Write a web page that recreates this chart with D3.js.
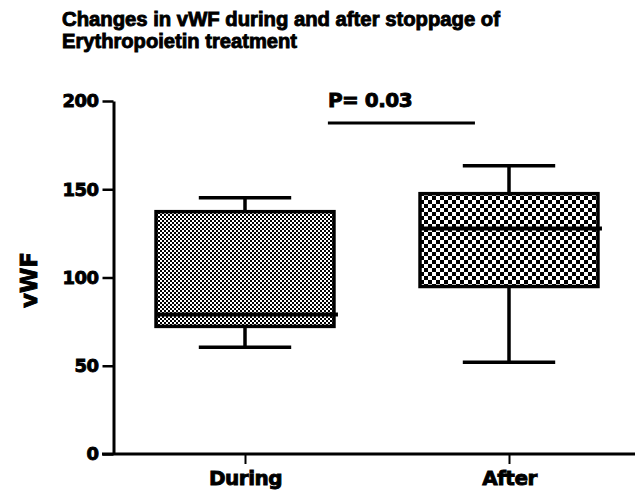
<!DOCTYPE html>
<html>
<head>
<meta charset="utf-8">
<script src="https://cdn.jsdelivr.net/npm/d3@7"></script>
<style>
  body { margin: 0; background: #fff; }
  svg { display: block; }
  .heavy { stroke: #000; stroke-width: 0.9px; paint-order: stroke; }
</style>
</head>
<body>
<div id="chart"></div>
<script>
// Box plot data
const categories = ["During", "After"];
const whiskerLow = [60.5, 52];
const q1 = [72.3, 94.9];
const median = [79.1, 127.7];
const q3 = [137.3, 147.5];
const whiskerHigh = [145.2, 163.3];
const yTicks = [0, 50, 100, 150, 200];
const titleLines = ["Changes in vWF during and after stoppage of", "Erythropoietin treatment"];
const pLabel = "P= 0.03";
const pBarValue = 187.6;

function createBoxPlot() {
    const width = 635, height = 494;
    const svg = d3.select("#chart").append("svg")
        .attr("width", width)
        .attr("height", height);

    // patterns for the two boxes
    const defs = svg.append("defs");
    const fine = defs.append("pattern")
        .attr("id", "fine").attr("patternUnits", "userSpaceOnUse")
        .attr("width", 4).attr("height", 4);
    fine.append("rect").attr("width", 4).attr("height", 4).attr("fill", "#000");
    fine.append("rect").attr("width", 2).attr("height", 2).attr("fill", "#fff");
    fine.append("rect").attr("x", 2).attr("y", 2).attr("width", 2).attr("height", 2).attr("fill", "#fff");

    const coarse = defs.append("pattern")
        .attr("id", "coarse").attr("patternUnits", "userSpaceOnUse")
        .attr("width", 8).attr("height", 8);
    coarse.append("rect").attr("width", 8).attr("height", 8).attr("fill", "#000");
    coarse.append("rect").attr("width", 4).attr("height", 4).attr("fill", "#fff");
    coarse.append("rect").attr("x", 4).attr("y", 4).attr("width", 4).attr("height", 4).attr("fill", "#fff");
    const fills = ["url(#fine)", "url(#coarse)"];

    const y = d3.scaleLinear().domain([0, 200]).range([454, 101]);
    const x = d3.scalePoint().domain(categories).range([113, 641]).padding(0.5);
    const step = x.step();
    const boxW = step * 0.674;
    const capW = step * 0.35;

    // Title
    svg.append("g").selectAll("text")
        .data(titleLines)
        .enter().append("text")
        .attr("class", "heavy")
        .attr("x", 62)
        .attr("y", (d, i) => 26 + i * 22)
        .attr("textLength", (d, i) => i === 0 ? 438 : 235)
        .attr("lengthAdjust", "spacingAndGlyphs")
        .style("font-family", "'Liberation Sans', Arial, sans-serif")
        .style("font-weight", "bold")
        .style("font-size", "20px")
        .text(d => d);

    // Y axis
    const yAxis = svg.append("g")
        .attr("transform", "translate(113.5,0)")
        .call(d3.axisLeft(y).tickValues(yTicks).tickSize(11).tickSizeOuter(0).tickPadding(4));
    yAxis.select(".domain").attr("stroke-width", 3);
    yAxis.selectAll(".tick line").attr("stroke-width", 2.5);
    yAxis.selectAll(".tick text")
        .attr("class", "heavy")
        .style("font-family", "'DejaVu Sans', sans-serif")
        .style("font-weight", "bold")
        .style("font-size", "18px")
        .style("letter-spacing", "-0.5px")
        .attr("fill", "#000");

    // X axis
    const xAxis = svg.append("g")
        .attr("transform", "translate(0,454)")
        .call(d3.axisBottom(x).tickSize(10).tickPadding(7));
    xAxis.select(".domain").remove();
    xAxis.append("line")
        .attr("x1", 102).attr("x2", width)
        .attr("stroke", "#000").attr("stroke-width", 3);
    xAxis.selectAll(".tick line").attr("stroke-width", 2);
    xAxis.selectAll(".tick text")
        .attr("class", "heavy")
        .style("font-family", "'DejaVu Sans', sans-serif")
        .style("font-weight", "bold")
        .style("font-size", "20px")
        .style("letter-spacing", "-0.5px")
        .attr("fill", "#000");

    // Y axis title
    svg.append("text")
        .attr("class", "heavy")
        .attr("transform", `translate(37,280) rotate(-90)`)
        .attr("text-anchor", "middle")
        .style("font-family", "'DejaVu Sans', sans-serif")
        .style("font-weight", "bold")
        .style("font-size", "23px")
        .text("vWF");

    // Boxes
    const boxes = svg.append("g").selectAll(".box")
        .data(categories)
        .enter().append("g")
        .attr("class", "box");

    boxes.append("line")
        .attr("x1", d => x(d)).attr("x2", d => x(d))
        .attr("y1", (d, i) => y(whiskerLow[i]))
        .attr("y2", (d, i) => y(whiskerHigh[i]))
        .attr("stroke", "#000").attr("stroke-width", 3.5);

    boxes.selectAll(".cap")
        .data((d, i) => [whiskerLow[i], whiskerHigh[i]].map(v => ({ c: d, v })))
        .enter().append("line")
        .attr("x1", d => x(d.c) - capW / 2).attr("x2", d => x(d.c) + capW / 2)
        .attr("y1", d => y(d.v)).attr("y2", d => y(d.v))
        .attr("stroke", "#000").attr("stroke-width", 3.5);

    boxes.append("rect")
        .attr("x", d => x(d) - boxW / 2)
        .attr("width", boxW)
        .attr("y", (d, i) => y(q3[i]))
        .attr("height", (d, i) => y(q1[i]) - y(q3[i]))
        .attr("fill", (d, i) => fills[i])
        .attr("stroke", "#000").attr("stroke-width", 3.5);

    boxes.append("line")
        .attr("x1", d => x(d) - boxW / 2)
        .attr("x2", d => x(d) + boxW / 2 + 4)
        .attr("y1", (d, i) => y(median[i])).attr("y2", (d, i) => y(median[i]))
        .attr("stroke", "#000").attr("stroke-width", 4);

    // Significance bar
    svg.append("line")
        .attr("x1", x(categories[0]) + step * 0.314)
        .attr("x2", x(categories[1]) - step * 0.129)
        .attr("y1", y(pBarValue)).attr("y2", y(pBarValue))
        .attr("stroke", "#000").attr("stroke-width", 3);

    svg.append("text")
        .attr("class", "heavy")
        .attr("x", x(categories[0]) + step * 0.314)
        .attr("y", 107)
        .style("font-family", "'DejaVu Sans', sans-serif")
        .style("font-weight", "bold")
        .style("font-size", "20px")
        .style("letter-spacing", "-0.5px")
        .text(pLabel);
}

createBoxPlot();
</script>
</body>
</html>
